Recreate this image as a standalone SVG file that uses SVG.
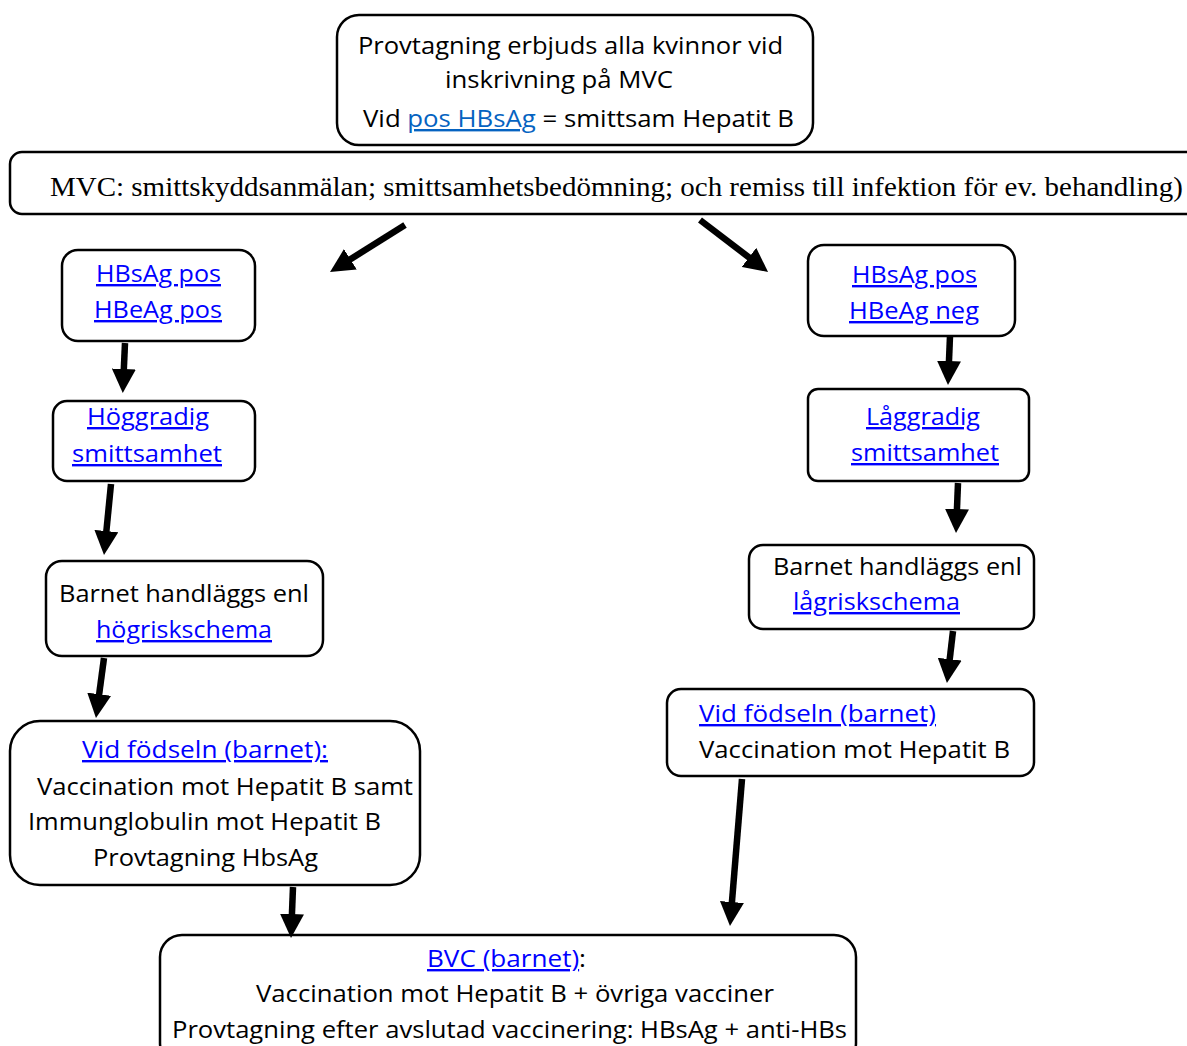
<svg xmlns="http://www.w3.org/2000/svg" width="1187" height="1046" viewBox="0 0 1187 1046">
<style>
.box{fill:#fff;stroke:#000;stroke-width:2.5}
.t{font-family:"Open Sans","Liberation Sans",sans-serif;font-size:24px;fill:#000}
.s{font-family:"Liberation Serif",serif;font-size:26.5px;fill:#000}
.lk{fill:#0000ff;text-decoration:underline}
.lk2{fill:#0563c1;text-decoration:underline}
.c line{stroke:#000;stroke-width:6.5}
</style>
<defs>
<marker id="ah" viewBox="0 0 24 24" refX="14" refY="12" markerWidth="24" markerHeight="24" markerUnits="userSpaceOnUse" orient="auto">
<path d="M0,0 L24,12 L0,24 z" fill="#000"/>
</marker>
</defs>
<rect width="1187" height="1046" fill="#fff"/>
<g id="n1">
<rect class="box" x="337" y="15" width="476" height="130" rx="22"/>
<text class="t" x="358" y="54" textLength="425" lengthAdjust="spacingAndGlyphs">Provtagning erbjuds alla kvinnor vid</text>
<text class="t" x="445" y="88" textLength="228" lengthAdjust="spacingAndGlyphs">inskrivning på MVC</text>
<text class="t" x="363" y="127" textLength="431" lengthAdjust="spacingAndGlyphs">Vid <tspan class="lk2">pos HBsAg</tspan> = smittsam Hepatit B</text>
</g>
<g id="n2">
<rect class="box" x="10" y="152" width="1190" height="62" rx="12"/>
<text class="s" x="50" y="196" textLength="1133" lengthAdjust="spacingAndGlyphs">MVC: smittskyddsanmälan; smittsamhetsbedömning; och remiss till infektion för ev. behandling)</text>
</g>
<g id="l1">
<rect class="box" x="62" y="250" width="193" height="91" rx="16"/>
<text class="t lk" x="96" y="282" textLength="125" lengthAdjust="spacingAndGlyphs">HBsAg pos</text>
<text class="t lk" x="94" y="318" textLength="128" lengthAdjust="spacingAndGlyphs">HBeAg pos</text>
</g>
<g id="l2">
<rect class="box" x="53" y="401" width="202" height="80" rx="14"/>
<text class="t lk" x="87" y="425" textLength="122" lengthAdjust="spacingAndGlyphs">Höggradig</text>
<text class="t lk" x="72" y="462" textLength="150" lengthAdjust="spacingAndGlyphs">smittsamhet</text>
</g>
<g id="l3">
<rect class="box" x="46" y="561" width="277" height="95" rx="16"/>
<text class="t" x="59" y="602" textLength="250" lengthAdjust="spacingAndGlyphs">Barnet handläggs enl</text>
<text class="t lk" x="96" y="638" textLength="176" lengthAdjust="spacingAndGlyphs">högriskschema</text>
</g>
<g id="l4">
<rect class="box" x="10" y="721" width="410" height="164" rx="30"/>
<text class="t lk" x="82" y="758" textLength="246" lengthAdjust="spacingAndGlyphs">Vid födseln (barnet):</text>
<text class="t" x="37" y="795" textLength="376" lengthAdjust="spacingAndGlyphs">Vaccination mot Hepatit B samt</text>
<text class="t" x="28" y="830" textLength="353" lengthAdjust="spacingAndGlyphs">Immunglobulin mot Hepatit B</text>
<text class="t" x="93" y="866" textLength="225" lengthAdjust="spacingAndGlyphs">Provtagning HbsAg</text>
</g>
<g id="r1">
<rect class="box" x="808" y="245" width="207" height="91" rx="16"/>
<text class="t lk" x="852" y="283" textLength="125" lengthAdjust="spacingAndGlyphs">HBsAg pos</text>
<text class="t lk" x="849" y="319" textLength="130" lengthAdjust="spacingAndGlyphs">HBeAg neg</text>
</g>
<g id="r2">
<rect class="box" x="808" y="389" width="221" height="92" rx="10"/>
<text class="t lk" x="866" y="425" textLength="114" lengthAdjust="spacingAndGlyphs">Låggradig</text>
<text class="t lk" x="851" y="461" textLength="148" lengthAdjust="spacingAndGlyphs">smittsamhet</text>
</g>
<g id="r3">
<rect class="box" x="749" y="545" width="285" height="84" rx="14"/>
<text class="t" x="773" y="575" textLength="249" lengthAdjust="spacingAndGlyphs">Barnet handläggs enl</text>
<text class="t lk" x="793" y="610" textLength="167" lengthAdjust="spacingAndGlyphs">lågriskschema</text>
</g>
<g id="r4">
<rect class="box" x="667" y="689" width="367" height="87" rx="14"/>
<text class="t lk" x="699" y="722" textLength="237" lengthAdjust="spacingAndGlyphs">Vid födseln (barnet)</text>
<text class="t" x="699" y="758" textLength="311" lengthAdjust="spacingAndGlyphs">Vaccination mot Hepatit B</text>
</g>
<g id="n3">
<rect class="box" x="160" y="935" width="696" height="130" rx="22"/>
<text class="t" x="427" y="967" textLength="159" lengthAdjust="spacingAndGlyphs"><tspan class="lk">BVC (barnet)</tspan>:</text>
<text class="t" x="256" y="1002" textLength="518" lengthAdjust="spacingAndGlyphs">Vaccination mot Hepatit B + övriga vacciner</text>
<text class="t" x="172" y="1038" textLength="675" lengthAdjust="spacingAndGlyphs">Provtagning efter avslutad vaccinering: HBsAg + anti-HBs</text>
</g>
<g id="connectors" class="c">
<line x1="405" y1="225" x2="338.5" y2="266.7" marker-end="url(#ah)"/>
<line x1="700" y1="220" x2="760.1" y2="265.9" marker-end="url(#ah)"/>
<line x1="125" y1="343" x2="123.2" y2="383" marker-end="url(#ah)"/>
<line x1="111" y1="484" x2="105" y2="545" marker-end="url(#ah)"/>
<line x1="104" y1="658" x2="97.3" y2="708.1" marker-end="url(#ah)"/>
<line x1="293" y1="887" x2="291.4" y2="928" marker-end="url(#ah)"/>
<line x1="950" y1="336" x2="948.4" y2="375" marker-end="url(#ah)"/>
<line x1="958" y1="483" x2="956.4" y2="523" marker-end="url(#ah)"/>
<line x1="953" y1="631" x2="948.1" y2="673.1" marker-end="url(#ah)"/>
<line x1="742" y1="779" x2="730.8" y2="916" marker-end="url(#ah)"/>
</g>
</svg>
